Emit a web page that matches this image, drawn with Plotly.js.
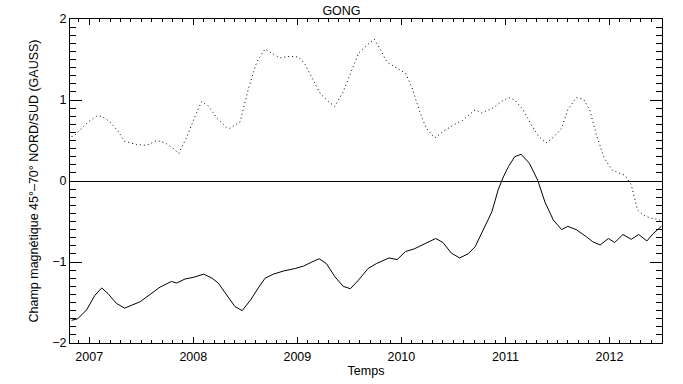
<!DOCTYPE html>
<html>
<head>
<meta charset="utf-8">
<script src="https://cdn.plot.ly/plotly-3.0.1.min.js"></script>
<style>html,body{margin:0;padding:0;background:#fff;} #chart{width:683px;height:384px;}</style>
</head>
<body>
<div id="chart"></div>
<script>
// Dotted series (upper curve), decimal years
const nordYears = [2006.83, 2006.85, 2006.91, 2006.99, 2007.07, 2007.12, 2007.20, 2007.28, 2007.34, 2007.46, 2007.55, 2007.65, 2007.73, 2007.81, 2007.86, 2007.94, 2008.02, 2008.08, 2008.15, 2008.23, 2008.32, 2008.35, 2008.45, 2008.53, 2008.61, 2008.69, 2008.75, 2008.83, 2008.93, 2009.01, 2009.07, 2009.14, 2009.22, 2009.30, 2009.36, 2009.44, 2009.52, 2009.59, 2009.67, 2009.74, 2009.80, 2009.86, 2009.96, 2010.04, 2010.10, 2010.18, 2010.24, 2010.32, 2010.40, 2010.50, 2010.59, 2010.71, 2010.77, 2010.88, 2010.96, 2011.03, 2011.09, 2011.17, 2011.25, 2011.32, 2011.39, 2011.47, 2011.54, 2011.60, 2011.68, 2011.75, 2011.81, 2011.87, 2011.95, 2012.03, 2012.09, 2012.15, 2012.21, 2012.27, 2012.34, 2012.40, 2012.46, 2012.50];
const nordValues = [0.55, 0.55, 0.63, 0.73, 0.80, 0.80, 0.73, 0.61, 0.49, 0.45, 0.44, 0.50, 0.47, 0.40, 0.34, 0.55, 0.81, 0.98, 0.92, 0.77, 0.66, 0.65, 0.73, 1.14, 1.47, 1.63, 1.58, 1.52, 1.54, 1.53, 1.45, 1.27, 1.08, 0.98, 0.92, 1.10, 1.35, 1.58, 1.68, 1.75, 1.62, 1.47, 1.39, 1.33, 1.16, 0.84, 0.65, 0.53, 0.61, 0.69, 0.75, 0.88, 0.84, 0.90, 0.98, 1.03, 1.00, 0.88, 0.69, 0.55, 0.47, 0.55, 0.65, 0.88, 1.03, 1.01, 0.88, 0.59, 0.28, 0.13, 0.10, 0.07, -0.05, -0.36, -0.43, -0.46, -0.47, -0.49];

// Solid series (lower curve), decimal years
const sudYears = [2006.83, 2006.89, 2006.975, 2007.055, 2007.12, 2007.18, 2007.26, 2007.34, 2007.49, 2007.58, 2007.68, 2007.79, 2007.84, 2007.92, 2008.00, 2008.10, 2008.18, 2008.24, 2008.35, 2008.40, 2008.47, 2008.55, 2008.63, 2008.69, 2008.77, 2008.87, 2008.98, 2009.06, 2009.14, 2009.21, 2009.28, 2009.36, 2009.44, 2009.51, 2009.59, 2009.68, 2009.76, 2009.88, 2009.96, 2010.04, 2010.12, 2010.23, 2010.33, 2010.40, 2010.48, 2010.56, 2010.64, 2010.71, 2010.79, 2010.87, 2010.93, 2010.98, 2011.03, 2011.09, 2011.15, 2011.23, 2011.31, 2011.38, 2011.46, 2011.54, 2011.60, 2011.68, 2011.78, 2011.84, 2011.91, 2011.99, 2012.05, 2012.13, 2012.21, 2012.28, 2012.36, 2012.42, 2012.50];
const sudValues = [-1.72, -1.70, -1.59, -1.41, -1.32, -1.39, -1.51, -1.57, -1.49, -1.41, -1.31, -1.24, -1.26, -1.21, -1.19, -1.15, -1.20, -1.26, -1.46, -1.55, -1.60, -1.47, -1.31, -1.20, -1.15, -1.11, -1.08, -1.05, -1.00, -0.96, -1.02, -1.18, -1.30, -1.33, -1.22, -1.08, -1.02, -0.95, -0.97, -0.87, -0.84, -0.77, -0.71, -0.76, -0.89, -0.95, -0.90, -0.81, -0.60, -0.38, -0.11, 0.05, 0.18, 0.30, 0.33, 0.22, 0.01, -0.26, -0.48, -0.60, -0.56, -0.60, -0.69, -0.75, -0.79, -0.71, -0.76, -0.66, -0.72, -0.66, -0.74, -0.65, -0.56];

const xTickVals = [2007, 2008, 2009, 2010, 2011, 2012];
const xTickText = ['2007', '2008', '2009', '2010', '2011', '2012'];
const yTickVals = [-2, -1, 0, 1, 2];
const yTickText = ['\u22122', '\u22121', '0', '1', '2'];

const font = {family: 'Liberation Sans, Arial, sans-serif', size: 12.5, color: '#000'};

const traces = [
  {x: nordYears, y: nordValues, type: 'scatter', mode: 'lines', name: 'Nord',
   line: {color: '#000', width: 1, dash: '1px,3px'}, hoverinfo: 'x+y'},
  {x: sudYears, y: sudValues, type: 'scatter', mode: 'lines', name: 'Sud',
   line: {color: '#000', width: 1}, hoverinfo: 'x+y'}
];

const layout = {
  width: 683, height: 384,
  margin: {l: 70, r: 21, t: 19, b: 41, pad: 0},
  paper_bgcolor: '#fff', plot_bgcolor: '#fff',
  showlegend: false,
  font: font,
  title: {text: 'GONG', font: font, x: 0.5, xanchor: 'center', y: 0.972, yanchor: 'middle'},
  xaxis: {
    range: [2006.815, 2012.505],
    tickmode: 'array', tickvals: xTickVals, ticktext: xTickText,
    ticks: 'inside', ticklen: 6, tickwidth: 1, tickcolor: '#000',
    minor: {dtick: 0.1, tick0: 2007, ticks: 'inside', ticklen: 3, tickcolor: '#000', tickwidth: 1, showgrid: false},
    showline: true, linecolor: '#000', linewidth: 1, mirror: 'ticks',
    showgrid: false, zeroline: false,
    tickfont: font, ticklabelstandoff: 2,
    title: {text: 'Temps', font: font, standoff: 3}
  },
  yaxis: {
    range: [-2, 2],
    tickmode: 'array', tickvals: yTickVals, ticktext: yTickText,
    ticks: 'inside', ticklen: 12, tickwidth: 1, tickcolor: '#000',
    minor: {dtick: 0.1, tick0: 0, ticks: 'inside', ticklen: 6, tickcolor: '#000', tickwidth: 1, showgrid: false},
    showline: true, linecolor: '#000', linewidth: 1, mirror: 'ticks',
    showgrid: false, zeroline: true, zerolinecolor: '#000', zerolinewidth: 1,
    tickfont: font,
    title: {text: 'Champ magnétique 45°\u201370° NORD/SUD (GAUSS)', font: font, standoff: 10}
  }
};

Plotly.newPlot('chart', traces, layout, {staticPlot: true, displayModeBar: false});
</script>
</body>
</html>
